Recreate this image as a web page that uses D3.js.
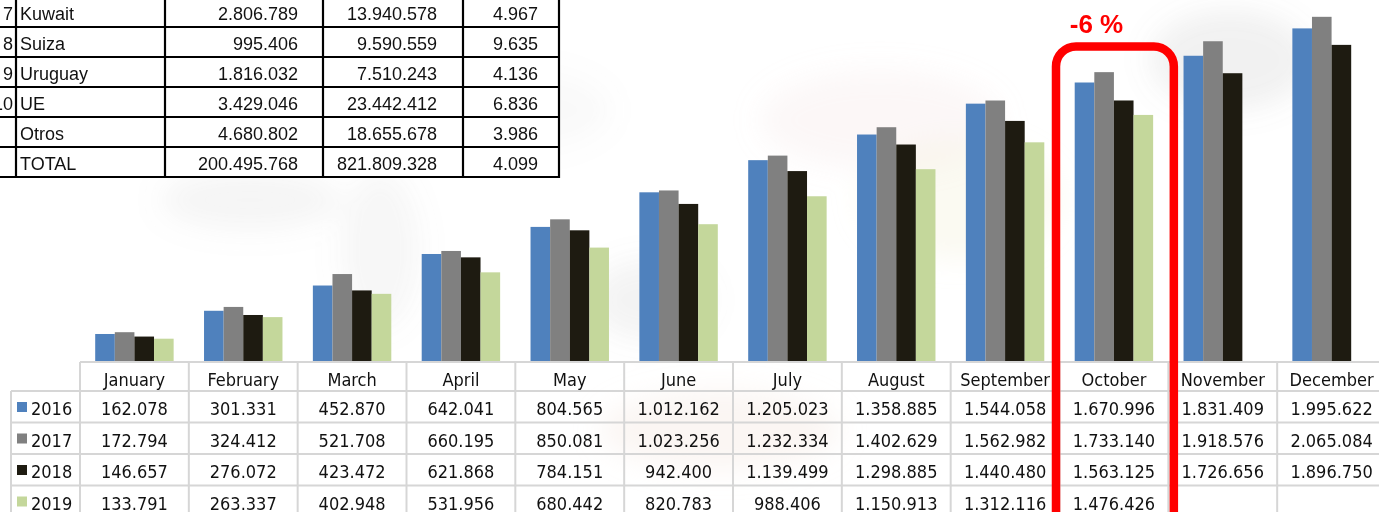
<!DOCTYPE html>
<html>
<head>
<meta charset="utf-8">
<script src="https://cdn.jsdelivr.net/npm/d3@7"></script>
<style>
  html, body { margin: 0; padding: 0; background: #fff; }
  svg { display: block; }
  .tbl { font-family: "DejaVu Sans Condensed", "DejaVu Sans", sans-serif; font-stretch: condensed; font-size: 18px; fill: #111; }
  .top { font-family: "Liberation Sans", Arial, sans-serif; font-size: 18px; fill: #111; }
</style>
</head>
<body>
<svg id="chart" width="1379" height="512"></svg>
<script>
// ---------- data ----------
const months = ["January","February","March","April","May","June","July","August","September","October","November","December"];
const years = ["2016","2017","2018","2019"];
const s2016 = [162078, 301331, 452870, 642041, 804565, 1012162, 1205023, 1358885, 1544058, 1670996, 1831409, 1995622];
const s2017 = [172794, 324412, 521708, 660195, 850081, 1023256, 1232334, 1402629, 1562982, 1733140, 1918576, 2065084];
const s2018 = [146657, 276072, 423472, 621868, 784151, 942400, 1139499, 1298885, 1440480, 1563125, 1726656, 1896750];
const s2019 = [133791, 263337, 402948, 531956, 680442, 820783, 988406, 1150913, 1312116, 1476426, null, null];
const seriesColors = ["#4f81bd", "#808080", "#1e1b11", "#c4d79b"];

const topIdx   = ["7", "8", "9", "10", "", ""];
const topNames = ["Kuwait", "Suiza", "Uruguay", "UE", "Otros", "TOTAL"];
const topCol1  = ["2.806.789", "995.406", "1.816.032", "3.429.046", "4.680.802", "200.495.768"];
const topCol2  = ["13.940.578", "9.590.559", "7.510.243", "23.442.412", "18.655.678", "821.809.328"];
const topCol3  = ["4.967", "9.635", "4.136", "6.836", "3.986", "4.099"];

const highlightLabel = "-6 %";
const highlightMonth = "October";

// ---------- setup ----------
const svg = d3.select("#chart");
const series = [s2016, s2017, s2018, s2019];
const locale = d3.formatLocale({ decimal: ",", thousands: ".", grouping: [3], currency: ["", ""] });
const fmt = locale.format(",d");

// faint watermark-like background
const defs = svg.append("defs");
defs.append("filter").attr("id", "blur").append("feGaussianBlur").attr("stdDeviation", 14);
const bg = svg.append("g").attr("filter", "url(#blur)");
const blobs = [
  {cx: 250, cy: 200, rx: 90, ry: 30, c: "#9a9a9a", o: 0.10},
  {cx: 380, cy: 250, rx: 40, ry: 80, c: "#9a9a9a", o: 0.08},
  {cx: 650, cy: 300, rx: 60, ry: 40, c: "#8a8a8a", o: 0.10},
  {cx: 880, cy: 120, rx: 120, ry: 50, c: "#ecd2d2", o: 0.18},
  {cx: 960, cy: 200, rx: 100, ry: 60, c: "#efeccc", o: 0.25},
  {cx: 1230, cy: 60, rx: 80, ry: 50, c: "#8a8a8a", o: 0.12},
  {cx: 720, cy: 430, rx: 120, ry: 40, c: "#f3e2d8", o: 0.30},
  {cx: 520, cy: 110, rx: 90, ry: 40, c: "#9a9a9a", o: 0.06}
];
bg.selectAll("ellipse").data(blobs).join("ellipse")
  .attr("cx", d => d.cx).attr("cy", d => d.cy).attr("rx", d => d.rx).attr("ry", d => d.ry)
  .attr("fill", d => d.c).attr("opacity", d => d.o);

// ---------- scales ----------
const x = d3.scaleBand().domain(months).range([80, 1386]).paddingInner(0).paddingOuter(0);
const xs = d3.scaleBand().domain(years).range([0, x.bandwidth()]).paddingInner(0).paddingOuter(0.775);
const y = d3.scaleLinear().domain([0, 2100000]).range([361, 11]);

// ---------- bars ----------
const barData = [];
months.forEach((m, i) => years.forEach((yr, j) => {
  const v = series[j][i];
  if (v != null) barData.push({ m, yr, v, c: seriesColors[j] });
}));
svg.append("g").selectAll("rect").data(barData).join("rect")
  .attr("x", d => x(d.m) + xs(d.yr))
  .attr("width", xs.bandwidth())
  .attr("y", d => y(d.v))
  .attr("height", d => y(0) - y(d.v))
  .attr("fill", d => d.c);

// ---------- data table ----------
const tTop = 362, headH = 29, rowH = 31.5, legLeft = 11;
const rowY = i => tTop + headH + i * rowH;
const grid = svg.append("g").attr("stroke", "#d6d6d6").attr("stroke-width", 2).attr("fill", "none");
grid.append("line").attr("x1", x.range()[0]).attr("x2", 1386).attr("y1", tTop).attr("y2", tTop);
years.forEach((yr, i) => {
  grid.append("line").attr("x1", legLeft).attr("x2", 1386).attr("y1", rowY(i)).attr("y2", rowY(i));
});
grid.append("line").attr("x1", legLeft).attr("x2", 1386).attr("y1", rowY(4)).attr("y2", rowY(4));
grid.append("line").attr("x1", legLeft).attr("x2", legLeft).attr("y1", rowY(0)).attr("y2", rowY(4));
months.forEach(m => {
  grid.append("line").attr("x1", x(m)).attr("x2", x(m)).attr("y1", tTop).attr("y2", rowY(4));
});

const tbl = svg.append("g").attr("class", "tbl");
tbl.selectAll("text.hdr").data(months).join("text").attr("class", "hdr")
  .attr("x", d => x(d) + x.bandwidth() / 2).attr("y", tTop + 24)
  .attr("text-anchor", "middle").text(d => d);

years.forEach((yr, j) => {
  tbl.append("rect").attr("x", 17).attr("y", rowY(j) + 11).attr("width", 10).attr("height", 10).attr("fill", seriesColors[j]);
  tbl.append("text").attr("x", 31).attr("y", rowY(j) + 24).text(yr);
  tbl.selectAll("text.v" + yr).data(series[j].map((v, i) => ({ v, m: months[i] })).filter(d => d.v != null))
    .join("text").attr("class", "v" + yr)
    .attr("x", d => x(d.m) + x.bandwidth() / 2).attr("y", rowY(j) + 24)
    .attr("text-anchor", "middle").text(d => fmt(d.v));
});

// ---------- top-left table ----------
const colX = [-20, 16, 165, 323, 463, 559];
const topRow0 = -3, topRowH = 30;
const tb = svg.append("g");
tb.append("rect").attr("x", 0).attr("y", 0).attr("width", 559).attr("height", topRow0 + topRowH * 6).attr("fill", "#fff");
const tbl2 = tb.append("g").attr("stroke", "#000").attr("stroke-width", 2.2);
for (let r = 1; r <= 6; r++) {
  tbl2.append("line").attr("x1", 0).attr("x2", colX[5] + 1).attr("y1", topRow0 + r * topRowH).attr("y2", topRow0 + r * topRowH);
}
colX.slice(1).forEach(cx => {
  tbl2.append("line").attr("x1", cx).attr("x2", cx).attr("y1", 0).attr("y2", topRow0 + 6 * topRowH + 1);
});
const tt = tb.append("g").attr("class", "top");
topNames.forEach((n, r) => {
  const by = topRow0 + r * topRowH + 23;
  tt.append("text").attr("x", 13).attr("y", by).attr("text-anchor", "end").text(topIdx[r]);
  tt.append("text").attr("x", 20).attr("y", by).text(n);
  tt.append("text").attr("x", 298).attr("y", by).attr("text-anchor", "end").text(topCol1[r]);
  tt.append("text").attr("x", 437).attr("y", by).attr("text-anchor", "end").text(topCol2[r]);
  tt.append("text").attr("x", 538).attr("y", by).attr("text-anchor", "end").text(topCol3[r]);
});

// ---------- highlight ----------
const hx = x(highlightMonth);
svg.append("rect")
  .attr("x", hx - 3.5).attr("y", 46.5)
  .attr("width", x.bandwidth() + 9).attr("height", 500)
  .attr("rx", 20).attr("ry", 20)
  .attr("fill", "none").attr("stroke", "#ff0000").attr("stroke-width", 8.5);
svg.append("text")
  .attr("x", hx + 37).attr("y", 33)
  .attr("text-anchor", "middle")
  .attr("font-family", "Liberation Sans, Arial, sans-serif")
  .attr("font-weight", "bold").attr("font-size", 26)
  .attr("fill", "#ff0000").text(highlightLabel);
</script>
</body>
</html>
